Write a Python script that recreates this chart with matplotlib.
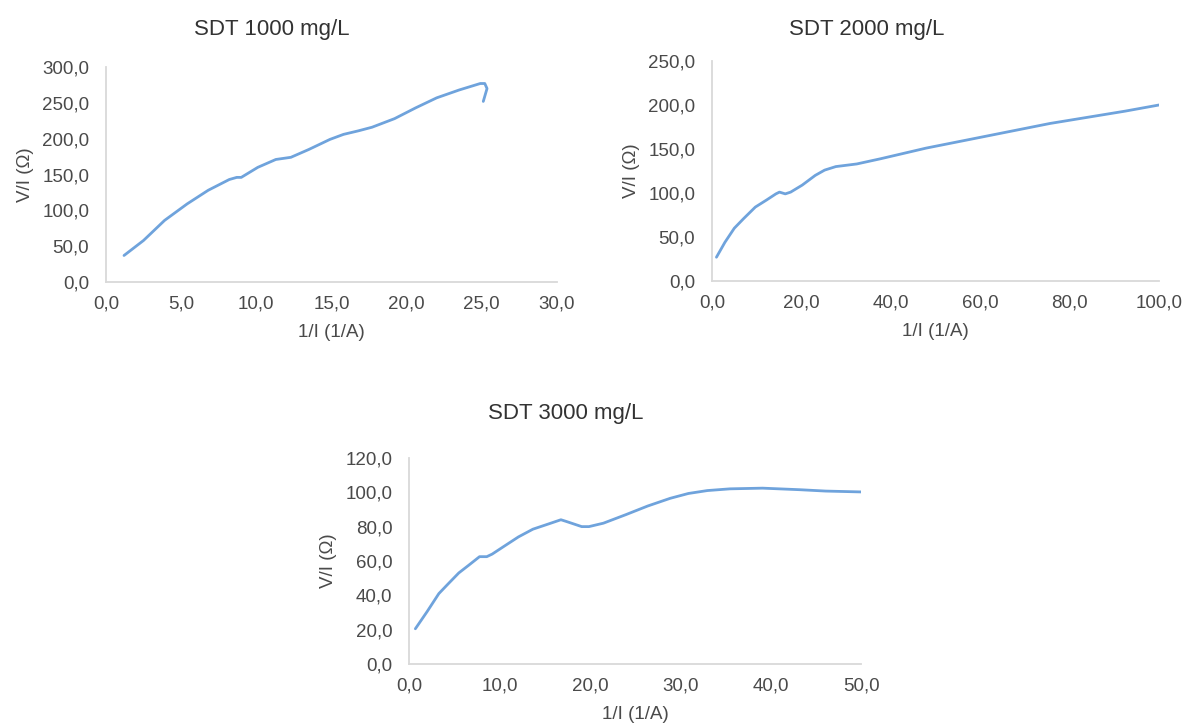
import numpy as np
import matplotlib
matplotlib.use("Agg")
import matplotlib.pyplot as plt
from matplotlib.ticker import FuncFormatter

plt.rcParams['font.family'] = ['Liberation Sans', 'DejaVu Sans']

# SDT 1000 mg/L
x1 = [1.2, 2.5, 3.9, 5.4, 6.8, 8.2, 8.7, 9.0, 10.1, 11.3, 12.3, 13.5, 14.9,
      15.8, 16.8, 17.7, 19.2, 20.6, 22.0, 23.5, 24.9, 25.2, 25.35, 25.1]
y1 = [37, 58, 86, 109, 128, 143, 146, 146, 160, 171, 174, 185, 199,
      206, 211, 216, 228, 243, 257, 268, 277, 277, 270, 252]

# SDT 2000 mg/L
x2 = [1.0, 2.9, 5.0, 7.1, 9.7, 12.2, 14.3, 15.1, 16.4, 17.6, 20.2, 23.1,
      25.2, 27.7, 32.4, 37.8, 47.9, 58.8, 75.6, 92.4, 100.0]
y2 = [27, 44, 60, 71, 84, 92, 99, 101, 99, 101, 109, 120,
      126, 130, 133, 139, 151, 162, 179, 193, 200]

# SDT 3000 mg/L
x3 = [0.7, 2.0, 3.3, 4.3, 5.5, 6.6, 7.8, 8.6, 9.2, 10.5, 12.1, 13.7, 15.4,
      16.8, 17.4, 19.1, 19.9, 21.5, 24.0, 26.4, 28.9, 30.9, 33.0, 35.5,
      39.1, 43.2, 46.1, 50.0]
y3 = [20.5, 30.5, 41, 46.5, 53, 57.5, 62.5, 62.5, 64, 68.5, 74, 78.5, 81.5,
      84, 83, 80, 80, 82, 87, 92, 96.5, 99.3, 101, 102,
      102.4, 101.5, 100.7, 100.2]

titles = ["SDT 1000 mg/L", "SDT 2000 mg/L", "SDT 3000 mg/L"]
xlims = [(0, 30), (0, 100), (0, 50)]
xsteps = [5, 20, 10]
ylims = [(0, 300), (0, 250), (0, 120)]
ysteps = [50, 50, 20]

line_color = "#6fa3dc"
text_color = "#4a4a4a"
spine_color = "#d9d9d9"

fig = plt.figure(figsize=(11.88, 7.27), dpi=100)
rects = [[0.0892, 0.6121, 0.3796, 0.2957],
         [0.5993, 0.6135, 0.3763, 0.3026],
         [0.3443, 0.0867, 0.3805, 0.2834]]
title_pos = [(272, 30), (867, 30), (566, 413)]

fmt = FuncFormatter(lambda v, p: ("%.1f" % v).replace(".", ","))

for i, (xs, ys) in enumerate([(x1, y1), (x2, y2), (x3, y3)]):
    ax = fig.add_axes(rects[i])
    ax.plot(xs, ys, color=line_color, lw=2.0, solid_capstyle="round",
            solid_joinstyle="round")
    ax.set_xlim(*xlims[i])
    ax.set_ylim(*ylims[i])
    ax.set_xticks(np.arange(xlims[i][0], xlims[i][1] + 0.1, xsteps[i]))
    ax.set_yticks(np.arange(ylims[i][0], ylims[i][1] + 0.1, ysteps[i]))
    ax.xaxis.set_major_formatter(fmt)
    ax.yaxis.set_major_formatter(fmt)
    for s in ["top", "right"]:
        ax.spines[s].set_visible(False)
    for s in ["left", "bottom"]:
        ax.spines[s].set_color(spine_color)
        ax.spines[s].set_linewidth(1.3)
    ax.tick_params(length=0, labelsize=13.5, colors=text_color)
    ax.tick_params(axis="y", pad=12)
    ax.tick_params(axis="x", pad=10)
    ax.set_xlabel("1/I (1/A)", fontsize=13.5, color=text_color, labelpad=8)
    ax.set_ylabel("V/I (Ω)", fontsize=13.5, color=text_color, labelpad=6)
    tx, ty = title_pos[i]
    fig.text(tx / 1188, 1 - ty / 727, titles[i], ha="center", va="center",
             fontsize=16, color="#333333")

fig.savefig("out.png", dpi=100, facecolor="white")
